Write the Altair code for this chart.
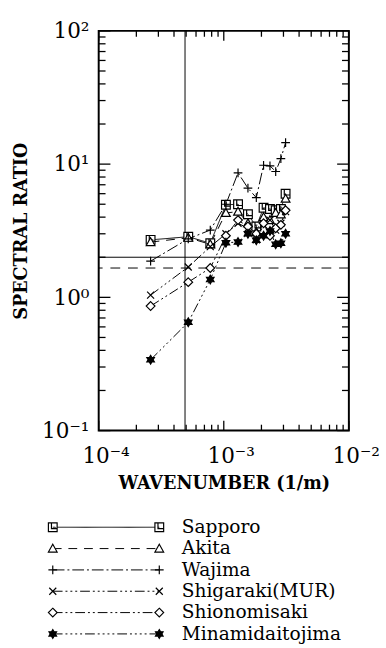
import math
import altair as alt
import pandas as pd

# ---------------- data ----------------
series_names = ["Sapporo", "Akita", "Wajima", "Shigaraki(MUR)", "Shionomisaki", "Minamidaitojima"]
wavenumber = [2.6e-4, 5.2e-4, 7.8e-4, 1.04e-3, 1.3e-3, 1.56e-3, 1.82e-3, 2.08e-3, 2.34e-3, 2.6e-3, 2.86e-3, 3.12e-3]
sapporo = [2.70, 2.85, 2.55, 4.95, 5.00, 4.20, 3.40, 4.70, 4.60, 4.50, 4.60, 6.00]
akita = [2.60, 2.80, 2.50, 4.30, 4.40, 3.60, 3.10, 4.00, 3.80, 4.30, 4.20, 5.50]
wajima = [1.87, 2.75, 3.20, 5.00, 8.60, 6.60, 5.60, 9.80, 9.70, 8.80, 11.0, 14.5]
shigaraki = [1.04, 1.69, 2.40, 3.00, 3.60, 3.30, 2.70, 3.50, 3.80, 3.20, 3.60, 4.40]
shionomisaki = [0.86, 1.30, 1.66, 2.90, 3.80, 3.40, 3.00, 3.60, 2.90, 3.30, 3.50, 4.50]
minamidaitojima = [0.34, 0.65, 1.36, 2.57, 2.60, 3.00, 2.68, 2.90, 3.15, 2.50, 2.55, 3.00]
all_series = [sapporo, akita, wajima, shigaraki, shionomisaki, minamidaitojima]

ref_wavenumber = 4.9e-4
ref_ratio_solid = 2.0
ref_ratio_dashed = 1.66

x_major = [1e-4, 1e-3, 1e-2]
x_minor = [k * 1e-4 for k in range(2, 10)] + [k * 1e-3 for k in range(2, 10)]
y_major = [0.1, 1, 10, 100]
y_minor = [k * 0.1 for k in range(2, 10)] + [k * 1.0 for k in range(2, 10)] + [k * 10.0 for k in range(2, 10)]
x_tick_labels = ["10\u207b\u2074", "10\u207b\u00b3", "10\u207b\u00b2"]
y_tick_labels = ["10\u207b\u00b9", "10\u2070", "10\u00b9", "10\u00b2"]

# ---------------- styles ----------------
W, H = 256, 409
MAJ, MIN = 10, 6
dash_styles = [[1, 0], [9, 7], [12, 3, 2, 3], [10, 3, 2, 3, 2, 3, 2, 3], [10, 3, 2, 3, 2, 3], [10, 3, 2, 3, 2, 3, 2, 3, 2, 3]]
shape_paths = [
    "M-1,-1L1,-1L1,1L-1,1Z M-0.3,-1L-0.3,0.3L1,0.3",
    "M0,-1L1,0.8L-1,0.8Z",
    "M-1,0L1,0M0,-1L0,1",
    "M-0.8,-0.8L0.8,0.8M-0.8,0.8L0.8,-0.8",
    "M0,-1L1,0L0,1L-1,0Z",
    "M0,-1L0.29,-0.5L0.87,-0.5L0.58,0L0.87,0.5L0.29,0.5L0,1L-0.29,0.5L-0.87,0.5L-0.58,0L-0.87,-0.5L-0.29,-0.5Z",
]
fills = ["white", "white", "white", "white", "white", "black"]
SERIF = "DejaVu Serif"


def label_expr(vals, labels):
    parts = []
    for v, l in zip(vals, labels):
        parts.append(f"round(log(datum.value)/LN10) == {round(math.log10(v))} ? '{l}' : ")
    return "".join(parts) + "''"


xs = alt.Scale(type="log", domain=[1e-4, 1e-2], nice=False)
ys = alt.Scale(type="log", domain=[0.1, 100], nice=False)
x_axis = alt.Axis(values=x_major, labelExpr=label_expr(x_major, x_tick_labels), ticks=False, domain=False,
                  grid=False, labelFont=SERIF, labelFontSize=22, labelPadding=16, labelOffset=7,
                  labelFlush=False, labelOverlap=False,
                  labelColor="black", title="WAVENUMBER (1/m)", titleFont=SERIF, titleFontSize=18,
                  titleFontWeight="bold", titleColor="black", titlePadding=8)
y_axis = alt.Axis(values=y_major, labelExpr=label_expr(y_major, y_tick_labels), ticks=False, domain=False,
                  grid=False, labelFont=SERIF, labelFontSize=22, labelPadding=10, labelColor="black",
                  labelFlush=False, labelOverlap=False,
                  labelBaseline="middle", title="SPECTRAL RATIO", titleFont=SERIF, titleFontSize=18,
                  titleFontWeight="bold", titleColor="black", titlePadding=11)


def X(field="wn"):
    return alt.X(f"{field}:Q", scale=xs, axis=x_axis, title="WAVENUMBER (1/m)")


def Y(field="ratio"):
    return alt.Y(f"{field}:Q", scale=ys, axis=y_axis, title="SPECTRAL RATIO")


# long-format table for the series
rows = []
for name, vals in zip(series_names, all_series):
    for wn, r in zip(wavenumber, vals):
        rows.append({"series": name, "wn": wn, "ratio": r})
df = pd.DataFrame(rows)

dash_enc = alt.StrokeDash("series:N", scale=alt.Scale(domain=series_names, range=dash_styles), legend=None)
shape_enc = alt.Shape("series:N", scale=alt.Scale(domain=series_names, range=shape_paths), legend=None)
fill_enc = alt.Fill("series:N", scale=alt.Scale(domain=series_names, range=fills), legend=None)

lines = alt.Chart(df).mark_line(color="black", strokeWidth=1).encode(x=X(), y=Y(), strokeDash=dash_enc)
points = alt.Chart(df).mark_point(filled=True, stroke="black", strokeWidth=1.2, size=80, opacity=1).encode(
    x=X(), y=Y(), shape=shape_enc, fill=fill_enc)

# reference lines
vline = alt.Chart(pd.DataFrame({"wn": [ref_wavenumber]})).mark_rule(color="black", strokeWidth=1).encode(x=X())
hline = alt.Chart(pd.DataFrame({"ratio": [ref_ratio_solid]})).mark_rule(color="black", strokeWidth=1).encode(y=Y())
hdash = alt.Chart(pd.DataFrame({"ratio": [ref_ratio_dashed]})).mark_rule(
    color="black", strokeWidth=1, strokeDash=[10, 8]).encode(y=Y())

# inward ticks on all four sides
tick_layers = []
for vals, ln in [(x_major, MAJ), (x_minor, MIN)]:
    d = pd.DataFrame({"wn": vals})
    tick_layers.append(alt.Chart(d).mark_rule(color="black", strokeWidth=1.3).encode(
        x=X(), y=alt.value(H), y2=alt.value(H - ln)))
    tick_layers.append(alt.Chart(d).mark_rule(color="black", strokeWidth=1.3).encode(
        x=X(), y=alt.value(0), y2=alt.value(ln)))
for vals, ln in [(y_major, MAJ + 2), (y_minor, MIN + 1)]:
    d = pd.DataFrame({"ratio": vals})
    tick_layers.append(alt.Chart(d).mark_rule(color="black", strokeWidth=1.3).encode(
        y=Y(), x=alt.value(0), x2=alt.value(ln)))
    tick_layers.append(alt.Chart(d).mark_rule(color="black", strokeWidth=1.3).encode(
        y=Y(), x=alt.value(W), x2=alt.value(W - ln)))

main = alt.layer(vline, hline, hdash, *tick_layers, lines, points).properties(width=W, height=H)

# ---------------- legend panel ----------------
leg_rows = []
for name in series_names:
    for p in [0, 1]:
        leg_rows.append({"series": name, "pos": p})
leg_df = pd.DataFrame(leg_rows)
lx = alt.X("pos:Q", scale=alt.Scale(domain=[0, 1], range=[-47, 62]), axis=None)
ly = alt.Y("series:N", sort=series_names, scale=alt.Scale(type="point", domain=series_names, padding=0.5), axis=None)

leg_lines = alt.Chart(leg_df).mark_line(color="black", strokeWidth=1).encode(x=lx, y=ly, strokeDash=dash_enc)
leg_points = alt.Chart(leg_df).mark_point(filled=True, stroke="black", strokeWidth=1.2, size=80, opacity=1).encode(
    x=lx, y=ly, shape=shape_enc, fill=fill_enc)
leg_text = alt.Chart(leg_df).transform_filter("datum.pos == 1").mark_text(
    align="left", baseline="middle", dx=23, font=SERIF, fontSize=19, color="black").encode(
    x=lx, y=ly, text="series:N")

legend = alt.layer(leg_lines, leg_points, leg_text).properties(
    width=W, height=131, view=alt.ViewBackground(stroke="transparent"))

chart = alt.vconcat(main, legend, spacing=23).properties(
    padding={"left": 12, "top": 12, "right": 5, "bottom": 0}, background="white"
).configure_view(stroke="black", strokeWidth=2)

chart.save("out.html", embed_options={"renderer": "svg", "actions": False})
